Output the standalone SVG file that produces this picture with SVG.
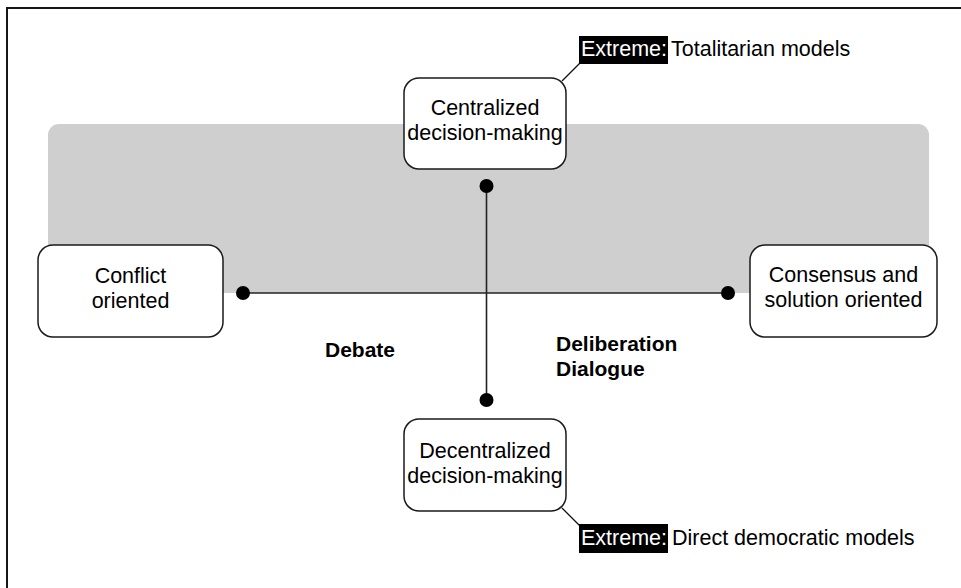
<svg xmlns="http://www.w3.org/2000/svg" width="961" height="588" viewBox="0 0 961 588">
  <style>
    text { font-family: "Liberation Sans", Arial, Helvetica, sans-serif; }
    .node rect { fill: #ffffff; stroke: #1a1a1a; stroke-width: 1.5; }
    .label { font-size: 21.5px; fill: #000000; text-anchor: middle; }
    .bold { font-size: 21px; font-weight: bold; fill: #000000; }
    .tag { fill: #000000; }
    .tag-text { font-size: 21.5px; fill: #ffffff; }
    .note { font-size: 21.5px; fill: #000000; }
    .axis { stroke: #222222; stroke-width: 1.6; fill: none; }
    .leader { stroke: #111111; stroke-width: 1.3; fill: none; }
    .dot { fill: #000000; }
  </style>

  <!-- page background and frame -->
  <rect x="0" y="0" width="961" height="588" fill="#ffffff"/>
  <rect x="7" y="8" width="1000" height="1000" fill="none" stroke="#161616" stroke-width="2"/>

  <!-- shaded band behind the upper half -->
  <rect id="band" x="48" y="124" width="881" height="169" rx="11" ry="11" fill="#cfcfcf"/>

  <!-- axes and callout leaders -->
  <g id="connectors">
    <line class="axis" x1="243" y1="293" x2="728" y2="293"/>
    <line class="axis" x1="486.5" y1="186" x2="486.5" y2="400" stroke="#000000" stroke-width="1.3"/>
    <circle class="dot" cx="243" cy="293" r="7"/>
    <circle class="dot" cx="728" cy="293" r="7"/>
    <circle class="dot" cx="486.5" cy="186" r="7"/>
    <circle class="dot" cx="486.5" cy="400" r="7"/>
    <line class="leader" x1="562" y1="81" x2="580" y2="63"/>
    <line class="leader" x1="562" y1="508" x2="580" y2="526"/>
  </g>

  <g id="centralized" class="node">
    <rect x="404" y="78" width="162" height="91" rx="15" ry="15"/>
    <text class="label" x="485" y="115">Centralized</text>
    <text class="label" x="485" y="139.5">decision-making</text>
  </g>

  <g id="decentralized" class="node">
    <rect x="404" y="419" width="162" height="92" rx="15" ry="15"/>
    <text class="label" x="485" y="457.5">Decentralized</text>
    <text class="label" x="485" y="482.5">decision-making</text>
  </g>

  <g id="conflict" class="node">
    <rect x="38" y="245" width="185" height="92" rx="15" ry="15"/>
    <text class="label" x="130.5" y="283">Conflict</text>
    <text class="label" x="130.5" y="308">oriented</text>
  </g>

  <g id="consensus" class="node">
    <rect x="750" y="245" width="187" height="92" rx="15" ry="15"/>
    <text class="label" x="843.5" y="282">Consensus and</text>
    <text class="label" x="843.5" y="307">solution oriented</text>
  </g>

  <g id="debate">
    <text class="bold" x="325" y="357">Debate</text>
  </g>

  <g id="deliberation">
    <text class="bold" x="556" y="351">Deliberation</text>
    <text class="bold" x="556" y="375.5">Dialogue</text>
  </g>

  <g id="extreme-top">
    <rect class="tag" x="579" y="36" width="89" height="28"/>
    <text class="tag-text" x="581" y="56">Extreme:</text>
    <text class="note" x="671" y="56">Totalitarian models</text>
  </g>

  <g id="extreme-bottom">
    <rect class="tag" x="579" y="524" width="89" height="29"/>
    <text class="tag-text" x="581" y="545">Extreme:</text>
    <text class="note" x="672" y="545">Direct democratic models</text>
  </g>
</svg>
